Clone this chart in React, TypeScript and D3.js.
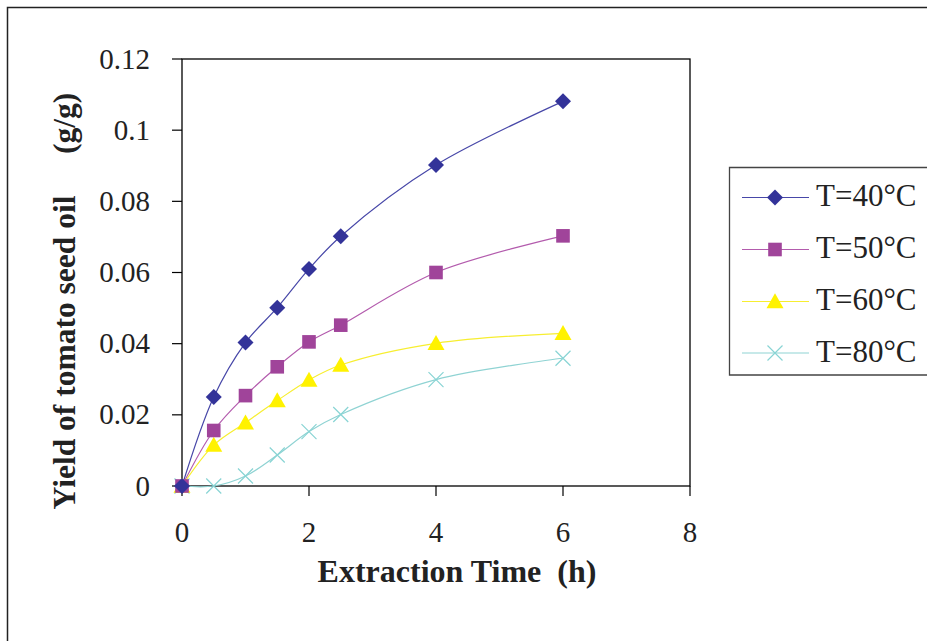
import React from "react";
import * as d3 from "d3";

const times = [0, 0.5, 1, 1.5, 2, 2.5, 4, 6];
const seriesNames = ["T=40°C", "T=50°C", "T=60°C", "T=80°C"];
const y40 = [0, 0.025, 0.0403, 0.0501, 0.061, 0.0702, 0.0902, 0.1081];
const y50 = [0, 0.0156, 0.0254, 0.0335, 0.0405, 0.0452, 0.06, 0.0703];
const y60 = [0, 0.0115, 0.0178, 0.024, 0.0298, 0.034, 0.0401, 0.0429];
const y80 = [0, 0, 0.0028, 0.0087, 0.0153, 0.0201, 0.0299, 0.0359];
const seriesValues = [y40, y50, y60, y80];
const colors = ["#333399", "#A0449A", "#FFF200", "#88D4D4"];
const lineColors = ["#4747A8", "#B35BAD", "#F7EE30", "#8FD3D3"];
const markerKinds = ["diamond", "square", "triangle", "x"];
const xTicks = [0, 2, 4, 6, 8];
const yTicks = [0, 0.02, 0.04, 0.06, 0.08, 0.1, 0.12];

const FONT = "'Liberation Serif', 'Times New Roman', serif";

function Marker({ kind, x, y, color }: { kind: string; x: number; y: number; color: string }) {
  if (kind === "diamond") {
    const r = 8;
    return <path d={`M${x},${y - r}L${x + r},${y}L${x},${y + r}L${x - r},${y}Z`} fill={color} />;
  }
  if (kind === "square") {
    const r = 6.8;
    return <rect x={x - r} y={y - r} width={2 * r} height={2 * r} fill={color} />;
  }
  if (kind === "triangle") {
    const w = 8.5, h = 15;
    return <path d={`M${x},${y - h * 0.55}L${x + w},${y + h * 0.45}L${x - w},${y + h * 0.45}Z`} fill={color} />;
  }
  const r = 7.5;
  return (
    <path d={`M${x - r},${y - r}L${x + r},${y + r}M${x - r},${y + r}L${x + r},${y - r}`} stroke={color} strokeWidth={1.2} fill="none" />
  );
}

export default function App() {
  const W = 927, H = 641;
  const left = 182, right = 690, top = 59, bottom = 486;
  const x = d3.scaleLinear().domain([0, 8]).range([left, right]);
  const y = d3.scaleLinear().domain([0, 0.12]).range([bottom, top]);
  const line = d3
    .line<[number, number]>()
    .x((d) => x(d[0]))
    .y((d) => y(d[1]))
    .curve(d3.curveCatmullRom.alpha(0.5));

  const legendRows = [197.5, 249.5, 301.5, 353];

  return (
    <svg width={W} height={H} style={{ position: "absolute", left: 0, top: 0, background: "#fff" }} fontFamily={FONT}>
      <rect x={0} y={0} width={W} height={H} fill="#fff" />
      {/* outer frame */}
      <path d={`M7.5,${H}L7.5,7.5L${W},7.5`} stroke="#222" strokeWidth={1.5} fill="none" />

      {/* plot area */}
      <rect x={left} y={top} width={right - left} height={bottom - top} fill="none" stroke="#000" strokeWidth={1.3} />

      {/* y ticks */}
      {yTicks.map((t) => (
        <g key={"y" + t}>
          <line x1={left - 10} x2={left} y1={y(t)} y2={y(t)} stroke="#000" strokeWidth={1.2} />
          <text x={150} y={y(t) + 9.5} textAnchor="end" fontSize={29} fill="#222">
            {t === 0 ? "0" : d3.format("~g")(t)}
          </text>
        </g>
      ))}

      {/* x ticks */}
      {xTicks.map((t) => (
        <g key={"x" + t}>
          <line x1={x(t)} x2={x(t)} y1={bottom} y2={bottom + 10} stroke="#000" strokeWidth={1.2} />
          <text x={x(t)} y={542} textAnchor="middle" fontSize={29} fill="#222">
            {t}
          </text>
        </g>
      ))}

      {/* axis titles */}
      <text x={457} y={582} textAnchor="middle" fontSize={32} fontWeight="bold" fill="#222">
        Extraction Time{"\u00a0\u00a0"}(h)
      </text>
      <text transform="translate(75,352.5) rotate(-90)" textAnchor="middle" fontSize={31.5} fontWeight="bold" fill="#222">
        Yield of tomato seed oil
      </text>
      <text transform="translate(75,123.5) rotate(-90)" textAnchor="middle" fontSize={31.5} fontWeight="bold" fill="#222">
        (g/g)
      </text>

      {/* series */}
      {seriesValues.map((vals, i) => {
        const pts = times.map((t, j) => [t, vals[j]] as [number, number]);
        return (
          <g key={"s" + i}>
            <path d={line(pts) || ""} fill="none" stroke={lineColors[i]} strokeWidth={1.2} />
          </g>
        );
      })}
      {seriesValues
        .map((vals, i) => ({ vals, i }))
        .reverse()
        .map(({ vals, i }) => (
          <g key={"m" + i}>
            {times.map((t, j) => (
              <Marker key={j} kind={markerKinds[i]} x={x(t)} y={y(vals[j])} color={colors[i]} />
            ))}
          </g>
        ))}

      {/* legend */}
      <path d={`M${W},167.5L729.5,167.5L729.5,375L${W},375`} fill="#fff" stroke="#444" strokeWidth={1.3} />
      {seriesNames.map((name, i) => (
        <g key={"l" + i}>
          <line x1={742} x2={809} y1={legendRows[i]} y2={legendRows[i]} stroke={lineColors[i]} strokeWidth={1.2} />
          <Marker kind={markerKinds[i]} x={775} y={legendRows[i]} color={colors[i]} />
          <text x={816} y={legendRows[i] + 8.5} fontSize={31} fill="#222">
            {name}
          </text>
        </g>
      ))}
    </svg>
  );
}
